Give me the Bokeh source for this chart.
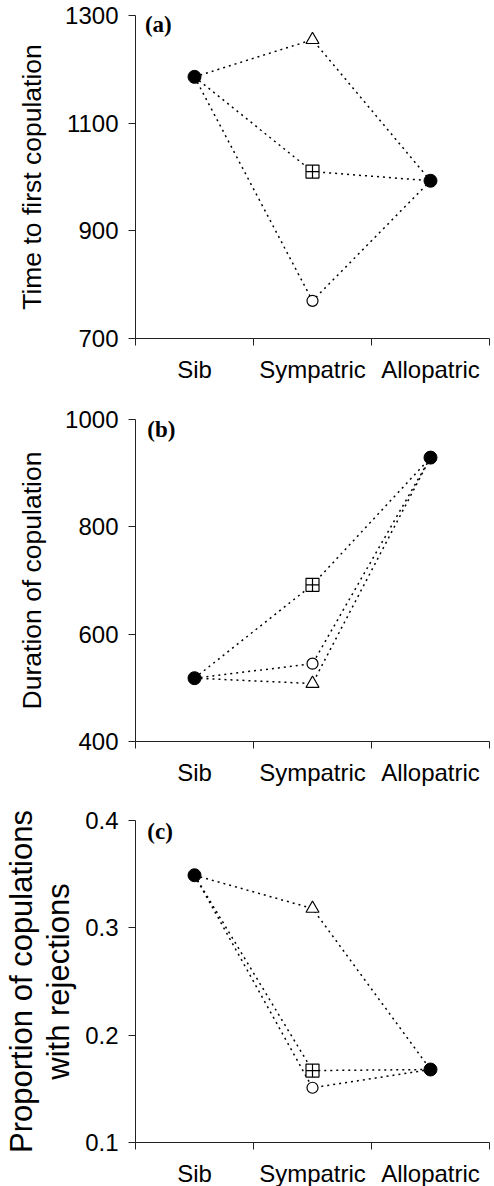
from bokeh.plotting import figure
from bokeh.layouts import column
from bokeh.models import FixedTicker, Label, Range1d
from bokeh.embed import file_html
from bokeh.resources import INLINE

# ---- data ----
groups = ["Sib", "Sympatric", "Allopatric"]
group_pos = [0.5, 1.5, 2.5]
group_bounds = [0, 1, 2, 3]
sym_markers = ["triangle", "square_cross", "circle"]

time_sib = 1186
time_allo = 993
time_sym = [1255, 1010, 770]          # triangle, square-cross, circle
time_ticks = [700, 900, 1100, 1300]

dur_sib = 518
dur_allo = 929
dur_sym = [508, 692, 545]
dur_ticks = [400, 600, 800, 1000]

rej_sib = 0.349
rej_allo = 0.168
rej_sym = [0.318, 0.167, 0.151]
rej_ticks = [0.1, 0.2, 0.3, 0.4]

FONT = "Liberation Sans"
TICK_FS = "24px"


def panel(sib, sym, allo, yticks, ylabel, letter, frame_h, border_top, border_bottom,
          label_fs, label_standoff, letter_x, letter_dy):
    y0, y1 = yticks[0], yticks[-1]
    p = figure(frame_width=354, frame_height=frame_h,
               min_border_left=135, min_border_right=5,
               min_border_top=border_top, min_border_bottom=border_bottom,
               x_range=Range1d(0, 3), y_range=Range1d(y0, y1),
               output_backend="svg", toolbar_location=None)
    p.outline_line_color = None
    p.grid.visible = False
    p.background_fill_color = "white"

    for s in sym:
        p.line(group_pos, [sib, s, allo], line_color="black", line_width=1.5,
               line_dash="2 4")
    for s, m in zip(sym, sym_markers):
        sz = 11 if m == "circle" else 13
        p.scatter([group_pos[1]], [s], marker=m, size=sz, fill_color="white",
                  line_color="black", line_width=1.2)
    p.scatter([group_pos[0], group_pos[2]], [sib, allo], marker="circle", size=13,
              fill_color="black", line_color="black")

    xa = p.xaxis[0]
    xa.ticker = FixedTicker(ticks=group_pos, minor_ticks=group_bounds)
    xa.major_label_overrides = {group_pos[i]: groups[i] for i in range(3)}
    xa.major_tick_out = 0
    xa.major_tick_in = 0
    xa.minor_tick_out = 7
    xa.minor_tick_in = 0
    xa.major_label_standoff = 10
    xa.major_label_text_font = FONT
    xa.major_label_text_font_size = TICK_FS
    xa.major_label_text_color = "black"
    xa.axis_line_color = "#222222"
    xa.minor_tick_line_color = "#222222"

    ya = p.yaxis[0]
    ya.ticker = FixedTicker(ticks=yticks, minor_ticks=[])
    ya.major_tick_out = 7
    ya.major_tick_in = 0
    ya.minor_tick_out = 0
    ya.minor_tick_in = 0
    ya.major_label_standoff = 10
    ya.major_label_text_font = FONT
    ya.major_label_text_font_size = TICK_FS
    ya.major_label_text_color = "black"
    ya.axis_line_color = "#222222"
    ya.major_tick_line_color = "#222222"
    ya.axis_label = ylabel
    ya.axis_label_text_font = FONT
    ya.axis_label_text_font_size = label_fs
    ya.axis_label_text_font_style = "normal"
    ya.axis_label_text_color = "black"
    ya.axis_label_standoff = label_standoff
    ya.axis_label_text_line_height = 1.07

    span = y1 - y0
    p.add_layout(Label(x=letter_x, y=y1 - span * letter_dy / frame_h, text=letter,
                       text_font="Liberation Serif", text_font_style="bold",
                       text_font_size="23px", text_baseline="top",
                       text_color="black"))
    return p


pa = panel(time_sib, time_sym, time_allo, time_ticks, "Time to first copulation",
           "(a)", 323, 15, 46, "26.5px", 15, 0.08, -4)
pb = panel(dur_sib, dur_sym, dur_allo, dur_ticks, "Duration of copulation",
           "(b)", 322, 34, 46, "26.5px", 15, 0.1, -3)
pc = panel(rej_sib, rej_sym, rej_allo, rej_ticks,
           "Proportion of copulations\nwith rejections", "(c)", 322, 32, 46,
           "31px", 6, 0.1, -2)

layout = column(pa, pb, pc)
open("out.html", "w").write(file_html(layout, INLINE))
